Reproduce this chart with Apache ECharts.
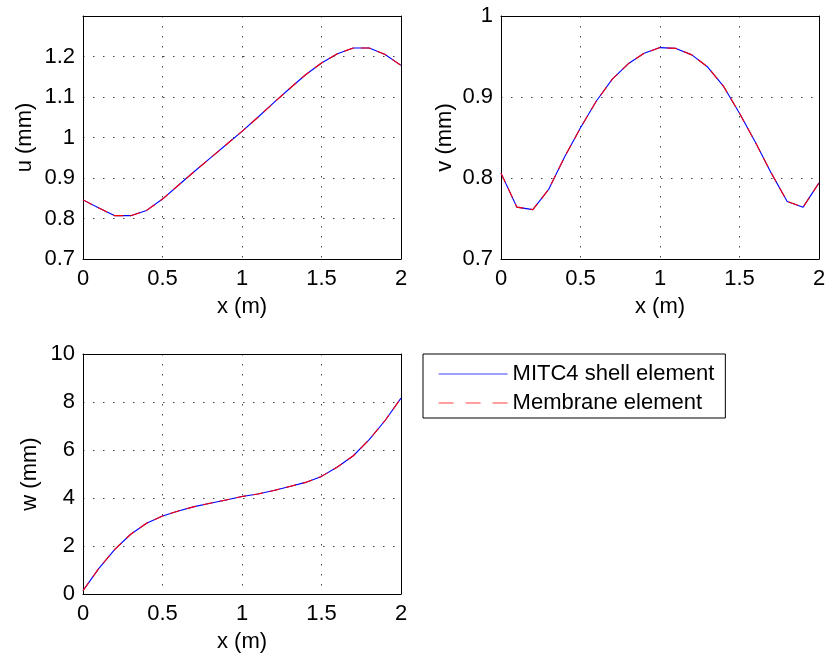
<!DOCTYPE html>
<html>
<head>
<meta charset="utf-8">
<script src="https://cdn.jsdelivr.net/npm/echarts@6/dist/echarts.min.js"></script>
<style>
html,body{margin:0;padding:0;background:#fff;}
#chart{width:829px;height:659px;}
</style>
</head>
<body>
<div id="chart"></div>
<script>
// x positions (m)
const xValues = [0,0.1,0.2,0.3,0.4,0.5,0.6,0.7,0.8,0.9,1.0,1.1,1.2,1.3,1.4,1.5,1.6,1.7,1.8,1.9,2.0];

// u (mm)
const uShell    = [0.846,0.826,0.807,0.807,0.820,0.848,0.882,0.916,0.949,0.982,1.015,1.050,1.086,1.121,1.155,1.184,1.207,1.221,1.221,1.205,1.178];
const uMembrane = [0.846,0.826,0.807,0.807,0.820,0.848,0.882,0.916,0.949,0.982,1.015,1.050,1.086,1.121,1.155,1.184,1.207,1.221,1.221,1.205,1.178];

// v (mm)
const vShell    = [0.806,0.764,0.761,0.786,0.826,0.862,0.895,0.922,0.941,0.954,0.961,0.960,0.952,0.937,0.913,0.880,0.844,0.806,0.771,0.764,0.794];
const vMembrane = [0.806,0.764,0.761,0.786,0.826,0.862,0.895,0.922,0.941,0.954,0.961,0.960,0.952,0.937,0.913,0.880,0.844,0.806,0.771,0.764,0.794];

// w (mm)
const wShell    = [0.14,1.07,1.86,2.49,2.95,3.25,3.46,3.64,3.78,3.92,4.06,4.17,4.31,4.48,4.65,4.90,5.29,5.76,6.43,7.23,8.16];
const wMembrane = [0.14,1.07,1.86,2.49,2.95,3.25,3.46,3.64,3.78,3.92,4.06,4.17,4.31,4.48,4.65,4.90,5.29,5.76,6.43,7.23,8.16];

const xTicks = [0, 0.5, 1, 1.5, 2];
const seriesNames = ['MITC4 shell element', 'Membrane element'];
const xTitle = 'x (m)';
const yTitles = ['u (mm)', 'v (mm)', 'w (mm)'];

const FONT = 'Liberation Sans, Arial, Helvetica, sans-serif';
const FS = 22;
const pairs = (xs, ys) => xs.map((x, i) => [x, ys[i]]);

const gridDefs = [
  {left: 83, top: 16, width: 318, height: 243},
  {left: 501, top: 16, width: 318, height: 243},
  {left: 83, top: 354, width: 318, height: 240}
];
const yRanges = [
  {min: 0.7, max: 1.3, interval: 0.1, gap: 47, hideAbove: 1.25},
  {min: 0.7, max: 1.0, interval: 0.1, gap: 45, hideAbove: 99},
  {min: 0, max: 10, interval: 2, gap: 42, hideAbove: 99}
];

const splitStyle = {show: true, lineStyle: {color: '#444', width: 1, type: [1.5, 8.5]}};
const frameLine = {show: true, onZero: false, lineStyle: {color: '#000', width: 1}};

const xAxes = [], yAxes = [];
gridDefs.forEach((g, i) => {
  xAxes.push({
    type: 'value', gridIndex: i, min: 0, max: 2, interval: 0.5, position: 'bottom',
    name: xTitle, nameLocation: 'middle', nameGap: 37,
    nameTextStyle: {fontFamily: FONT, fontSize: FS, color: '#000'},
    axisLine: frameLine, axisTick: {show: false},
    axisLabel: {fontFamily: FONT, fontSize: FS, color: '#000', margin: 9,
      formatter: v => xTicks.includes(v) ? String(v) : ''},
    splitLine: splitStyle
  });
  xAxes.push({
    type: 'value', gridIndex: i, min: 0, max: 2, interval: 0.5, position: 'top',
    axisLine: frameLine, axisTick: {show: false}, axisLabel: {show: false}, splitLine: {show: false}
  });
  const r = yRanges[i];
  yAxes.push({
    type: 'value', gridIndex: i, min: r.min, max: r.max, interval: r.interval, position: 'left',
    name: yTitles[i], nameLocation: 'middle', nameGap: r.gap,
    nameTextStyle: {fontFamily: FONT, fontSize: FS, color: '#000'},
    axisLine: frameLine, axisTick: {show: false},
    axisLabel: {fontFamily: FONT, fontSize: FS, color: '#000', margin: 8,
      formatter: v => v > r.hideAbove ? '' : String(+v.toFixed(2))},
    splitLine: splitStyle
  });
  yAxes.push({
    type: 'value', gridIndex: i, min: r.min, max: r.max, interval: r.interval, position: 'right',
    axisLine: frameLine, axisTick: {show: false}, axisLabel: {show: false}, splitLine: {show: false}
  });
});

const dataSets = [[uShell, uMembrane], [vShell, vMembrane], [wShell, wMembrane]];
const series = [];
dataSets.forEach((d, i) => {
  series.push({
    name: seriesNames[0], type: 'line', xAxisIndex: 2 * i, yAxisIndex: 2 * i,
    data: pairs(xValues, d[0]), showSymbol: false, symbol: 'none', animation: false,
    lineStyle: {color: '#0000ff', width: 1.1, type: 'solid'}, itemStyle: {color: '#0000ff'}
  });
  series.push({
    name: seriesNames[1], type: 'line', xAxisIndex: 2 * i, yAxisIndex: 2 * i,
    data: pairs(xValues, d[1]), showSymbol: false, symbol: 'none', animation: false,
    lineStyle: {color: '#ff0000', width: 1.1, type: [10, 7]}, itemStyle: {color: '#ff0000'}
  });
});

const chart = echarts.init(document.getElementById('chart'), null, {renderer: 'canvas'});
chart.setOption({
  animation: false,
  backgroundColor: '#fff',
  grid: gridDefs.map(g => Object.assign({containLabel: false}, g)),
  xAxis: xAxes,
  yAxis: yAxes,
  legend: {
    data: [
      {name: seriesNames[0], lineStyle: {type: 'solid', color: '#4040ff'}},
      {name: seriesNames[1], lineStyle: {type: [15, 12], color: '#ff4040'}}
    ],
    orient: 'vertical',
    left: 423, top: 354,
    padding: [9, 11, 4, 15],
    itemGap: 7,
    itemWidth: 69, itemHeight: 14,
    borderColor: '#000', borderWidth: 1,
    backgroundColor: '#fff',
    itemStyle: {opacity: 0},
    lineStyle: {width: 1.2},
    textStyle: {fontFamily: FONT, fontSize: FS, color: '#000'},
    selectedMode: false
  },
  series: series
});
</script>
</body>
</html>
